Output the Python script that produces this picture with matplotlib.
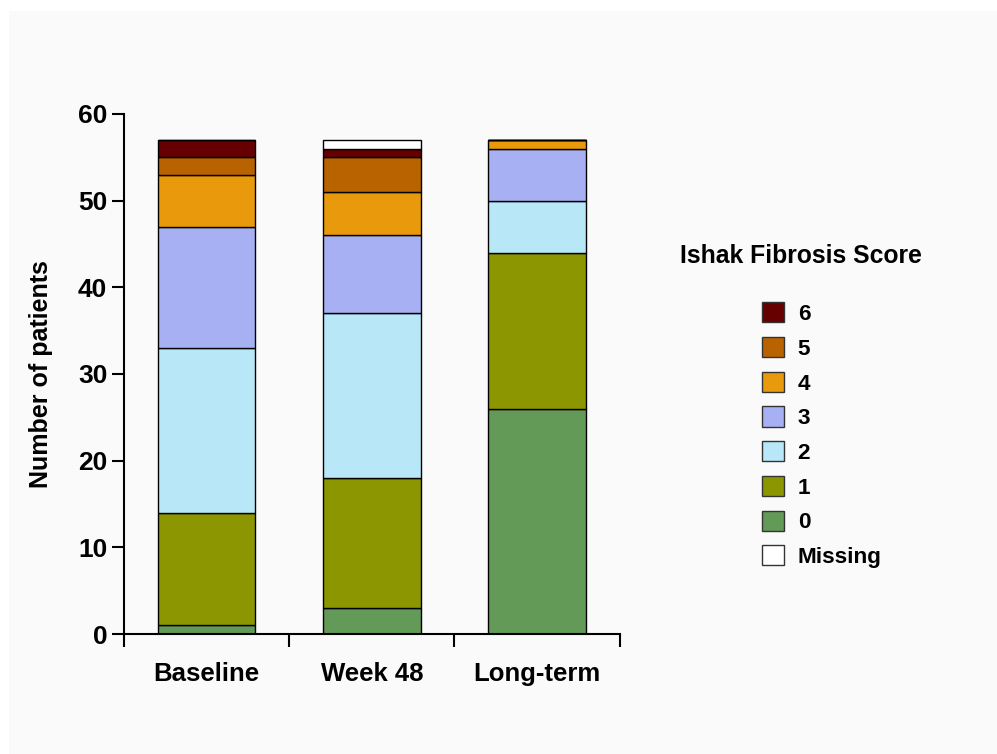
import matplotlib
matplotlib.use('Agg')
import matplotlib.pyplot as plt
import numpy as np
from matplotlib.patches import Patch, Rectangle

plt.rcParams['font.family'] = ['Liberation Sans', 'DejaVu Sans']
plt.rcParams['font.weight'] = 'bold'

timepoints = ['Baseline', 'Week 48', 'Long-term']
scores = ['0', '1', '2', '3', '4', '5', '6', 'Missing']
# patients per score, stacked bottom (0) to top (Missing)
counts = {
    '0': [1, 3, 26],
    '1': [13, 15, 18],
    '2': [19, 19, 6],
    '3': [14, 9, 6],
    '4': [6, 5, 1],
    '5': [2, 4, 0],
    '6': [2, 1, 0],
    'Missing': [0, 1, 0],
}
colors = {
    '0': '#639a58',
    '1': '#8c9600',
    '2': '#b8e8f8',
    '3': '#a7b0f2',
    '4': '#e89a0c',
    '5': '#b86200',
    '6': '#660000',
    'Missing': '#ffffff',
}

fig = plt.figure(figsize=(9.97, 7.54), dpi=100, facecolor='white')
# light grey slide panel behind the chart
fig.patches.append(Rectangle((0.009, 0.0), 0.991, 0.985, transform=fig.transFigure,
                             facecolor='#fafafa', edgecolor='none', zorder=-10))
ax = fig.add_axes([0.1244, 0.159, 0.497, 0.69])
ax.set_facecolor('#fafafa')

x = np.arange(len(timepoints))
bottom = np.zeros(len(timepoints))
for s in scores:
    vals = np.array(counts[s], dtype=float)
    ax.bar(x, vals, 0.59, bottom=bottom, color=colors[s],
           edgecolor='black', linewidth=1.0)
    bottom += vals

ax.set_xlim(-0.5, 2.5)
ax.set_ylim(0, 60)
ax.set_yticks(range(0, 61, 10))
ax.set_xticks(x)
ax.set_xticklabels(timepoints, fontsize=18.5, fontweight='bold')
ax.set_xticks([-0.5, 0.5, 1.5, 2.5], minor=True)
ax.tick_params(axis='x', which='major', length=0, pad=20)
ax.tick_params(axis='x', which='minor', length=9, width=1.5, direction='out')
ax.tick_params(axis='y', length=9, width=1.5, direction='out', labelsize=19, pad=3)
for lab in ax.get_yticklabels():
    lab.set_fontweight('bold')

ax.spines['top'].set_visible(False)
ax.spines['right'].set_visible(False)
ax.spines['left'].set_linewidth(1.5)
ax.spines['bottom'].set_linewidth(1.5)
ax.set_ylabel('Number of patients', fontsize=18, fontweight='bold', labelpad=18)

handles = [Patch(facecolor=colors[s], edgecolor='#333333', linewidth=1.0, label=s)
           for s in ['6', '5', '4', '3', '2', '1', '0', 'Missing']]
leg = fig.legend(handles=handles, loc='upper left', bbox_to_anchor=(0.764, 0.599),
                 frameon=False, fontsize=16.2, handlelength=1.0, handleheight=1.0,
                 labelspacing=0.53, handletextpad=0.6, borderaxespad=0,
                 borderpad=0)
fig.text(0.682, 0.661, 'Ishak Fibrosis Score', fontsize=17.8, fontweight='bold',
         va='center', ha='left')

fig.savefig('out.png', dpi=100, facecolor=fig.get_facecolor())
